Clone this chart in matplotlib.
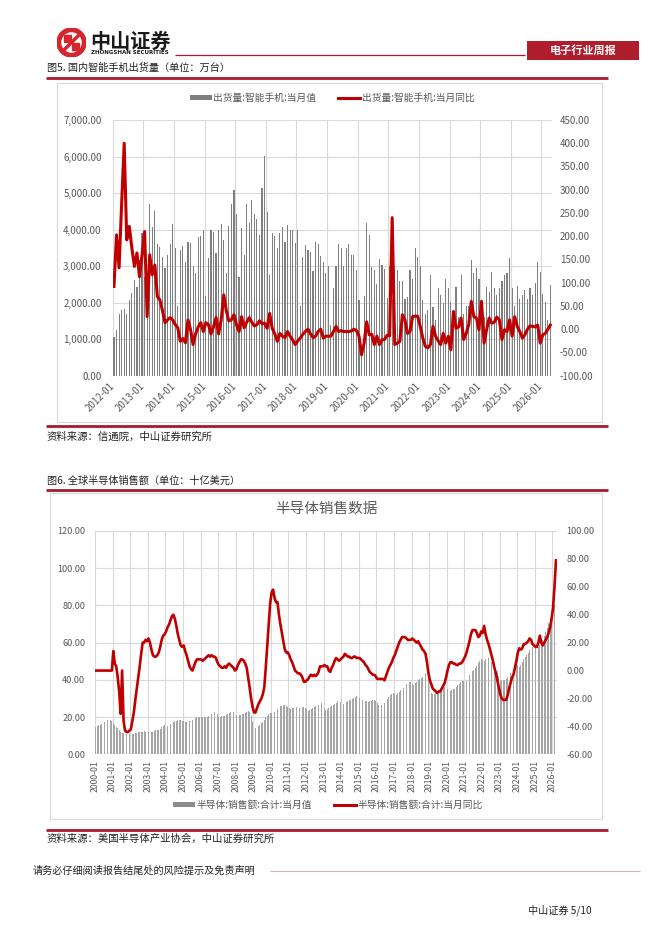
import numpy as np
import matplotlib
matplotlib.use('Agg')
import matplotlib.pyplot as plt
import matplotlib.ticker as mticker
from matplotlib.patches import Rectangle, Circle, Patch, Polygon
from matplotlib.lines import Line2D

plt.rcParams['font.family'] = ['Noto Sans CJK SC', 'DejaVu Sans']
plt.rcParams['axes.unicode_minus'] = False

# ---------------- data ----------------
# Chart 1: China smartphone shipments (万台), monthly from 2012-01
phone_shipments = [
    1070, 1250, 1700, 1800, 1820, 1700, 2070, 2270, 2620, 2440, 3170, 3900,   # 2012
    2700, 1700, 4690, 4080, 4510, 3600, 3510, 3240, 2940, 3310, 3600, 4150,   # 2013
    3490, 1900, 3450, 3540, 3120, 3670, 3630, 2990, 2800, 3810, 3830, 3990,   # 2014
    2170, 3220, 3990, 3930, 3350, 3990, 4140, 3720, 2810, 4100, 4700, 5080,   # 2015
    4440, 2700, 4030, 3300, 4700, 4170, 4800, 4440, 4300, 3850, 5130, 6020,   # 2016
    4490, 2760, 3910, 3820, 3490, 3910, 4060, 3670, 4120, 3990, 4000, 3620,   # 2017
    3990, 1900, 3260, 3580, 3440, 3400, 2860, 3650, 3600, 3280, 3100, 2800,   # 2018
    3000, 1400, 2400, 3000, 3600, 3500, 3000, 3500, 3600, 3300, 3300, 2900,   # 2019
    2080, 640, 2180, 4170, 3850, 2970, 2900, 2500, 3190, 3020, 2930, 2120,    # 2020
    3000, 2100, 3000, 2900, 2600, 2600, 2100, 2150, 2880, 2660, 3500, 3260,   # 2021
    3000, 2070, 1700, 1800, 2760, 1890, 1520, 2390, 2200, 2000, 2660, 2400,   # 2022
    2030, 1700, 2440, 1600, 2760, 1700, 1900, 1900, 3170, 2800, 2940, 2660,   # 2023
    2000, 1600, 2440, 2300, 2850, 2400, 2200, 2400, 2600, 2760, 2800, 3210,   # 2024
    2400, 1900, 2450, 2100, 2200, 2350, 2100, 2400, 2200, 2530, 3120, 2850,   # 2025
    2250, 2030, 1520, 2480,                                                   # 2026
]
phone_yoy = [
    92, 203, 132, 270, 400, 192, 221, 175, 135, 164, 113, 160,
    210, 27, 160, 117, 138, 70, 63, 40, 14, 20, 25, 20,
    10, 3, -26, -20, -29, 20, -1, -33, -10, 5, 14, -5,
    14, 10, -10, 5, 25, -10, 20, 74, 40, 18, 20, 31,
    10, -5, 27, 3, 15, 25, 15, 7, 10, 18, 12, 13,
    2, 34, 2, -10, -26, -9, -15, -18, -5, -15, -23, -33,
    -25, -19, -11, -5, 0, -10, -18, -15, -5, 0, -19, -15,
    -15, -15, -5, 6, -5, -3, -5, -5, -5, -4, 0, -3,
    -15, -55, -30, 16, -12, -11, -33, -15, -33, -23, -22, -13,
    -14, 240, -33, -30, -26, 31, 20, -9, -5, 27, 28, 28,
    6, -19, -37, -40, -33, 6, -15, -25, -33, -9, -30, -15,
    -44, 38, 2, 5, 24, -22, -9, 10, 60, 27, 24, -1,
    60, -30, -1, 24, 13, 15, 26, 20, -22, -1, -5, 20,
    -15, 27, 6, -5, -19, -12, 0, 7, 6, 5, 9, -30,
    -12, -9, 0, 9,
]
phone_years = list(range(2012, 2027))
phone_tick_labels = [f'{y}-01' for y in phone_years]

# Chart 2: global semiconductor sales (十亿美元), monthly from 2000-01
semi_sales = [
    14.8, 15.0, 15.6, 16.0, 16.5, 17.0, 17.3, 17.8, 18.3, 18.5, 18.3, 18.0,   # 2000
    16.6, 15.5, 14.8, 14.0, 13.0, 12.2, 11.6, 11.3, 11.0, 10.9, 10.8, 11.0,   # 2001
    11.0, 10.7, 11.0, 11.3, 11.5, 11.8, 11.9, 12.1, 12.2, 12.3, 12.2, 12.0,   # 2002
    12.0, 12.3, 12.2, 12.0, 12.3, 12.8, 13.0, 13.3, 13.8, 14.5, 15.2, 15.6,   # 2003
    15.5, 15.2, 15.8, 16.3, 16.8, 17.5, 17.8, 18.0, 18.3, 18.4, 18.2, 18.0,   # 2004
    17.9, 17.5, 17.6, 17.8, 17.9, 18.0, 18.3, 18.6, 19.5, 20.1, 20.3, 20.2,   # 2005
    20.0, 19.8, 19.9, 20.2, 20.3, 20.5, 20.8, 21.5, 22.3, 22.5, 22.2, 21.5,   # 2006
    20.3, 20.0, 20.4, 20.6, 20.8, 21.2, 21.6, 22.3, 23.0, 23.2, 22.8, 22.0,   # 2007
    21.0, 20.8, 21.0, 21.3, 21.5, 21.8, 22.3, 22.8, 23.2, 22.5, 20.5, 17.5,   # 2008
    15.0, 14.3, 14.5, 15.0, 15.8, 16.7, 17.6, 18.6, 19.8, 20.8, 21.5, 22.0,   # 2009
    22.4, 22.3, 23.0, 23.8, 24.5, 25.3, 25.8, 26.2, 26.5, 26.4, 25.9, 25.2,   # 2010
    24.8, 24.3, 24.7, 25.0, 25.0, 25.3, 25.2, 25.0, 25.0, 25.3, 25.5, 25.0,   # 2011
    24.2, 23.5, 23.8, 24.2, 24.8, 25.4, 25.8, 26.0, 26.6, 27.0, 27.4, 27.4,   # 2012
    24.7, 24.0, 24.5, 25.0, 25.6, 26.0, 26.3, 27.0, 27.8, 28.4, 28.5, 28.2,   # 2013
    27.5, 27.0, 27.5, 28.0, 28.5, 29.0, 29.3, 29.8, 30.5, 31.0, 31.3, 31.0,   # 2014
    30.0, 29.5, 29.0, 28.8, 28.5, 28.4, 28.3, 28.5, 28.8, 29.0, 29.2, 28.5,   # 2015
    27.5, 26.5, 26.4, 26.5, 26.8, 27.5, 28.5, 29.5, 31.0, 32.0, 32.5, 33.0,   # 2016
    32.5, 31.8, 32.8, 33.5, 34.3, 35.0, 35.8, 36.5, 37.8, 38.5, 39.0, 39.0,   # 2017
    38.0, 37.5, 38.2, 39.0, 39.8, 40.5, 41.2, 41.8, 42.5, 43.5, 43.0, 41.5,   # 2018
    35.5, 33.0, 32.5, 32.5, 33.0, 33.5, 34.0, 34.5, 35.0, 35.5, 36.0, 36.0,   # 2019
    35.0, 34.0, 34.0, 34.5, 35.0, 35.2, 36.0, 37.0, 38.0, 39.0, 39.5, 39.5,   # 2020
    40.0, 39.5, 41.0, 42.5, 43.5, 44.5, 45.5, 46.5, 47.5, 49.0, 50.0, 51.0,   # 2021
    50.5, 50.0, 51.0, 51.5, 51.5, 50.5, 49.5, 48.5, 48.0, 46.5, 44.5, 42.0,   # 2022
    40.0, 39.5, 39.8, 40.0, 40.5, 41.5, 42.5, 43.5, 44.5, 45.5, 47.0, 48.0,   # 2023
    48.0, 47.0, 48.0, 49.5, 51.0, 52.5, 53.5, 54.5, 56.0, 57.0, 57.5, 57.0,   # 2024
    57.0, 56.5, 57.5, 58.5, 59.5, 61.5, 63.5, 65.5, 68.0, 70.5, 73.0, 75.5,   # 2025
    78.0, 80.0, 82.0,                                                         # 2026
]
semi_yoy = [
    0, 0, 0, 0, 0, 0, 0, 0, 0, 0, 0, 0,
    14, 5, 3, -5, -15, -31, 0, -36, -43, -44, -44, -43,
    -42, -36, -30, -21, -13, -5, 3, 12, 20, 20, 22, 21,
    23, 20, 15, 11, 10, 10, 11, 13, 17, 22, 25, 26,
    28, 31, 33, 36, 39, 40, 37, 32, 26, 22, 18, 17,
    18, 14, 11, 7, 3, 1, 0, 3, 6, 8, 8, 8,
    8, 7, 8, 9, 10, 11, 10, 11, 10, 10, 9, 6,
    4, 3, 2, 2, 3, 2, 4, 5, 4, 3, 2, 0,
    1, 4, 6, 8, 8, 7, 5, 2, -5, -12, -20, -26,
    -30, -30, -27, -24, -22, -20, -17, -12, 2, 18, 33, 48,
    56, 58, 52, 49, 49, 40, 33, 27, 21, 15, 13, 13,
    11, 8, 6, 3, 0, -1, -2, -2, -3, -5, -8, -8,
    -7, -6, -4, -3, -4, -3, -4, -3, -1, 3, 3, 3,
    4, 3, 3, 0, -1, 2, 4, 7, 9, 8, 7, 8,
    9, 10, 12, 11, 10, 10, 9, 9, 10, 10, 9, 9,
    9, 8, 7, 6, 4, 3, 1, -1, -2, -3, -3, -4,
    -6, -6, -6, -6, -6, -7, -4, -1, 2, 4, 6, 9,
    11, 14, 17, 20, 22, 24, 24, 24, 23, 22, 22, 22,
    23, 22, 21, 20, 21, 19, 17, 15, 14, 12, 6, -2,
    -7, -10, -13, -14, -15, -16, -15, -15, -13, -11, -9, -5,
    0, 4, 6, 6, 5, 5, 4, 4, 5, 5, 6, 8,
    10, 13, 17, 21, 26, 29, 29, 29, 27, 24, 25, 28,
    27, 32, 26, 22, 19, 15, 11, 7, 2, -2, -7, -12,
    -17, -20, -21, -21, -21, -18, -13, -9, -5, -3, 2, 7,
    13, 16, 15, 16, 19, 19, 20, 21, 23, 22, 19, 18,
    17, 17, 20, 25, 20, 18, 20, 22, 24, 27, 31, 37,
    45, 60, 79,
]
semi_years = list(range(2000, 2027))
semi_tick_labels = [f'{y}-01' for y in semi_years]

# ---------------- page setup ----------------
W, H = 662, 936
def fx(x): return x / W
def fy(y): return 1 - y / H

fig = plt.figure(figsize=(W / 100, H / 100), dpi=100)
fig.patch.set_facecolor('white')

RED = '#C00000'
DARKRED = '#A8192E'
GRID = '#D9D9D9'
TXT = '#595959'
CAP = '#222222'

def hline(x0, x1, y, lw, color):
    fig.add_artist(Line2D([fx(x0), fx(x1)], [fy(y), fy(y)], lw=lw, color=color,
                          transform=fig.transFigure, solid_capstyle='butt'))

# logo
axl = fig.add_axes([fx(57), fy(57), 29 / W, 29 / H])
axl.set_xlim(-1, 1); axl.set_ylim(-1, 1); axl.set_aspect('equal'); axl.axis('off')
axl.add_patch(Circle((0, 0), 1.0, color='#D7252C'))
axl.add_patch(Circle((0, 0), 0.66, color='white'))
axl.add_patch(Polygon([(-0.55, 0.05), (-0.05, 0.05), (-0.05, 0.55), (-0.55, 0.55)], color='#D7252C'))
axl.add_patch(Polygon([(0.05, -0.55), (0.55, -0.55), (0.55, -0.05), (0.05, -0.05)], color='#D7252C'))
axl.add_patch(Polygon([(-0.05, 0.05), (0.05, -0.05), (0.6, 0.5), (0.5, 0.6)], color='#D7252C'))
axl.add_patch(Polygon([(-0.6, -0.5), (-0.5, -0.6), (0.05, -0.05), (-0.05, 0.05)], color='#D7252C'))

fig.text(fx(90), fy(41), '中山证券', fontsize=14.5, fontweight='heavy', color='#1A1A1A',
         va='center', ha='left')
fig.text(fx(91), fy(52.5), 'ZHONGSHAN SECURITIES', fontsize=4.0, fontweight='bold',
         color='#1A1A1A', va='center', ha='left', family=['DejaVu Sans'])
hline(175, 525, 55, 0.9, DARKRED)
fig.add_artist(Rectangle((fx(527), fy(60)), (639 - 527) / W, 19 / H, transform=fig.transFigure,
                         facecolor='#B01E2E', edgecolor='none'))
fig.text(fx(583), fy(50.5), '电子行业周报', fontsize=8, fontweight='bold', color='white',
         ha='center', va='center')

# ---------------- Figure 5 ----------------
fig.text(fx(47), fy(68), '图5. 国内智能手机出货量（单位：万台）', fontsize=7.3, color=CAP,
         ha='left', va='center')
hline(46, 608, 77.5, 2.0, DARKRED)
fig.add_artist(Rectangle((fx(56.7), fy(421.7)), (601.7 - 56.7) / W, (421.7 - 83.3) / H,
                         transform=fig.transFigure, fill=False, edgecolor=GRID, lw=0.8))

ax1 = fig.add_axes([fx(112.7), fy(375.7), (551.7 - 112.7) / W, (375.7 - 120) / H])
n1 = len(phone_shipments)
x1 = np.arange(n1)
ax1.bar(x1, phone_shipments, width=0.45, color='#7F7F7F', zorder=2)
ax1.set_xlim(-0.5, n1 - 0.5)
ax1.set_ylim(0, 7000)
ax1.set_yticks(np.arange(0, 7001, 1000))
ax1.yaxis.set_major_formatter(mticker.FuncFormatter(lambda v, p: f'{v:,.2f}'))
ax1.set_xticks([12 * k - 0.5 for k in range(len(phone_tick_labels))])
ax1.set_xticklabels(phone_tick_labels, rotation=45, ha='right', va='center',
                    rotation_mode='anchor')
ax1.grid(True, color=GRID, lw=0.8)
ax1.set_axisbelow(True)
for s in ax1.spines.values():
    s.set_visible(False)
ax1.tick_params(axis='y', length=0, labelsize=7, labelcolor=TXT, pad=8)
ax1.tick_params(axis='x', length=0, labelsize=7, labelcolor=TXT, pad=6)

ax1r = ax1.twinx()
ax1r.plot(x1, phone_yoy, color=RED, lw=2.2, solid_joinstyle='round', zorder=3)
ax1r.set_ylim(-100, 450)
ax1r.set_yticks(np.arange(-100, 451, 50))
ax1r.yaxis.set_major_formatter(mticker.FuncFormatter(lambda v, p: f'{v:.2f}'))
for s in ax1r.spines.values():
    s.set_visible(False)
ax1r.tick_params(axis='y', length=0, labelsize=7, labelcolor=TXT, pad=6)

h1 = [Patch(facecolor='#7F7F7F', edgecolor='none'), Line2D([], [], color=RED, lw=2.2)]
ax1r.legend(h1, ['出货量:智能手机:当月值', '出货量:智能手机:当月同比'], ncol=2, loc='center',
            bbox_to_anchor=(fx(332), fy(98)), bbox_transform=fig.transFigure, frameon=False,
            fontsize=7, labelcolor=TXT, handlelength=2.3, handleheight=0.55,
            handletextpad=0.15, columnspacing=2.2)

hline(46, 608, 426, 2.0, DARKRED)
fig.text(fx(47), fy(437), '资料来源：信通院，中山证券研究所', fontsize=7.5, color=CAP,
         ha='left', va='center')

# ---------------- Figure 6 ----------------
fig.text(fx(47), fy(481), '图6. 全球半导体销售额（单位：十亿美元）', fontsize=7.3, color=CAP,
         ha='left', va='center')
hline(46, 608, 490, 2.0, DARKRED)
fig.add_artist(Rectangle((fx(50), fy(819)), (601.7 - 50) / W, (819 - 492.7) / H,
                         transform=fig.transFigure, fill=False, edgecolor=GRID, lw=0.8))
fig.text(fx(326), fy(509), '半导体销售数据', fontsize=10.5, color=TXT, ha='center', va='center')

ax2 = fig.add_axes([fx(95), fy(754.3), (556.7 - 95) / W, (754.3 - 531) / H])
n2 = len(semi_sales)
x2 = np.arange(n2)
ax2.bar(x2, semi_sales, width=0.55, color='#A6A6A6', zorder=2)
ax2.set_xlim(-0.5, n2 - 0.5)
ax2.set_ylim(0, 120)
ax2.set_yticks(np.arange(0, 121, 20))
ax2.yaxis.set_major_formatter(mticker.FuncFormatter(lambda v, p: f'{v:.2f}'))
ax2.set_xticks([12 * k - 0.5 for k in range(len(semi_tick_labels))])
ax2.set_xticklabels(semi_tick_labels, rotation=90, ha='center', va='top')
ax2.grid(True, color=GRID, lw=0.8)
ax2.set_axisbelow(True)
for s in ax2.spines.values():
    s.set_visible(False)
ax2.tick_params(axis='y', length=0, labelsize=6.6, labelcolor=TXT, pad=7)
ax2.tick_params(axis='x', length=0, labelsize=6.3, labelcolor=TXT, pad=4)

ax2r = ax2.twinx()
ax2r.plot(x2, semi_yoy, color=RED, lw=1.9, solid_joinstyle='round', zorder=3)
ax2r.set_ylim(-60, 100)
ax2r.set_yticks(np.arange(-60, 101, 20))
ax2r.yaxis.set_major_formatter(mticker.FuncFormatter(lambda v, p: f'{v:.2f}'))
for s in ax2r.spines.values():
    s.set_visible(False)
ax2r.tick_params(axis='y', length=0, labelsize=6.6, labelcolor=TXT, pad=7)

h2 = [Patch(facecolor='#8C8C8C', edgecolor='none'), Line2D([], [], color=RED, lw=2.2)]
ax2r.legend(h2, ['半导体:销售额:合计:当月值', '半导体:销售额:合计:当月同比'], ncol=2, loc='center',
            bbox_to_anchor=(fx(328), fy(805)), bbox_transform=fig.transFigure, frameon=False,
            fontsize=7, labelcolor=TXT, handlelength=2.3, handleheight=0.55,
            handletextpad=0.15, columnspacing=2.2)

hline(46, 608, 830, 2.0, DARKRED)
fig.text(fx(47), fy(839), '资料来源：美国半导体产业协会，中山证券研究所', fontsize=7.5, color=CAP,
         ha='left', va='center')

# ---------------- footer ----------------
fig.text(fx(33), fy(871), '请务必仔细阅读报告结尾处的风险提示及免责声明', fontsize=7.3, color=CAP,
         ha='left', va='center')
hline(270, 640, 871, 0.8, '#D2B4BB')
fig.text(fx(528), fy(910), '中山证券 5/10', fontsize=7.3, color=CAP, ha='left', va='center')

fig.savefig('out.png', dpi=100)
